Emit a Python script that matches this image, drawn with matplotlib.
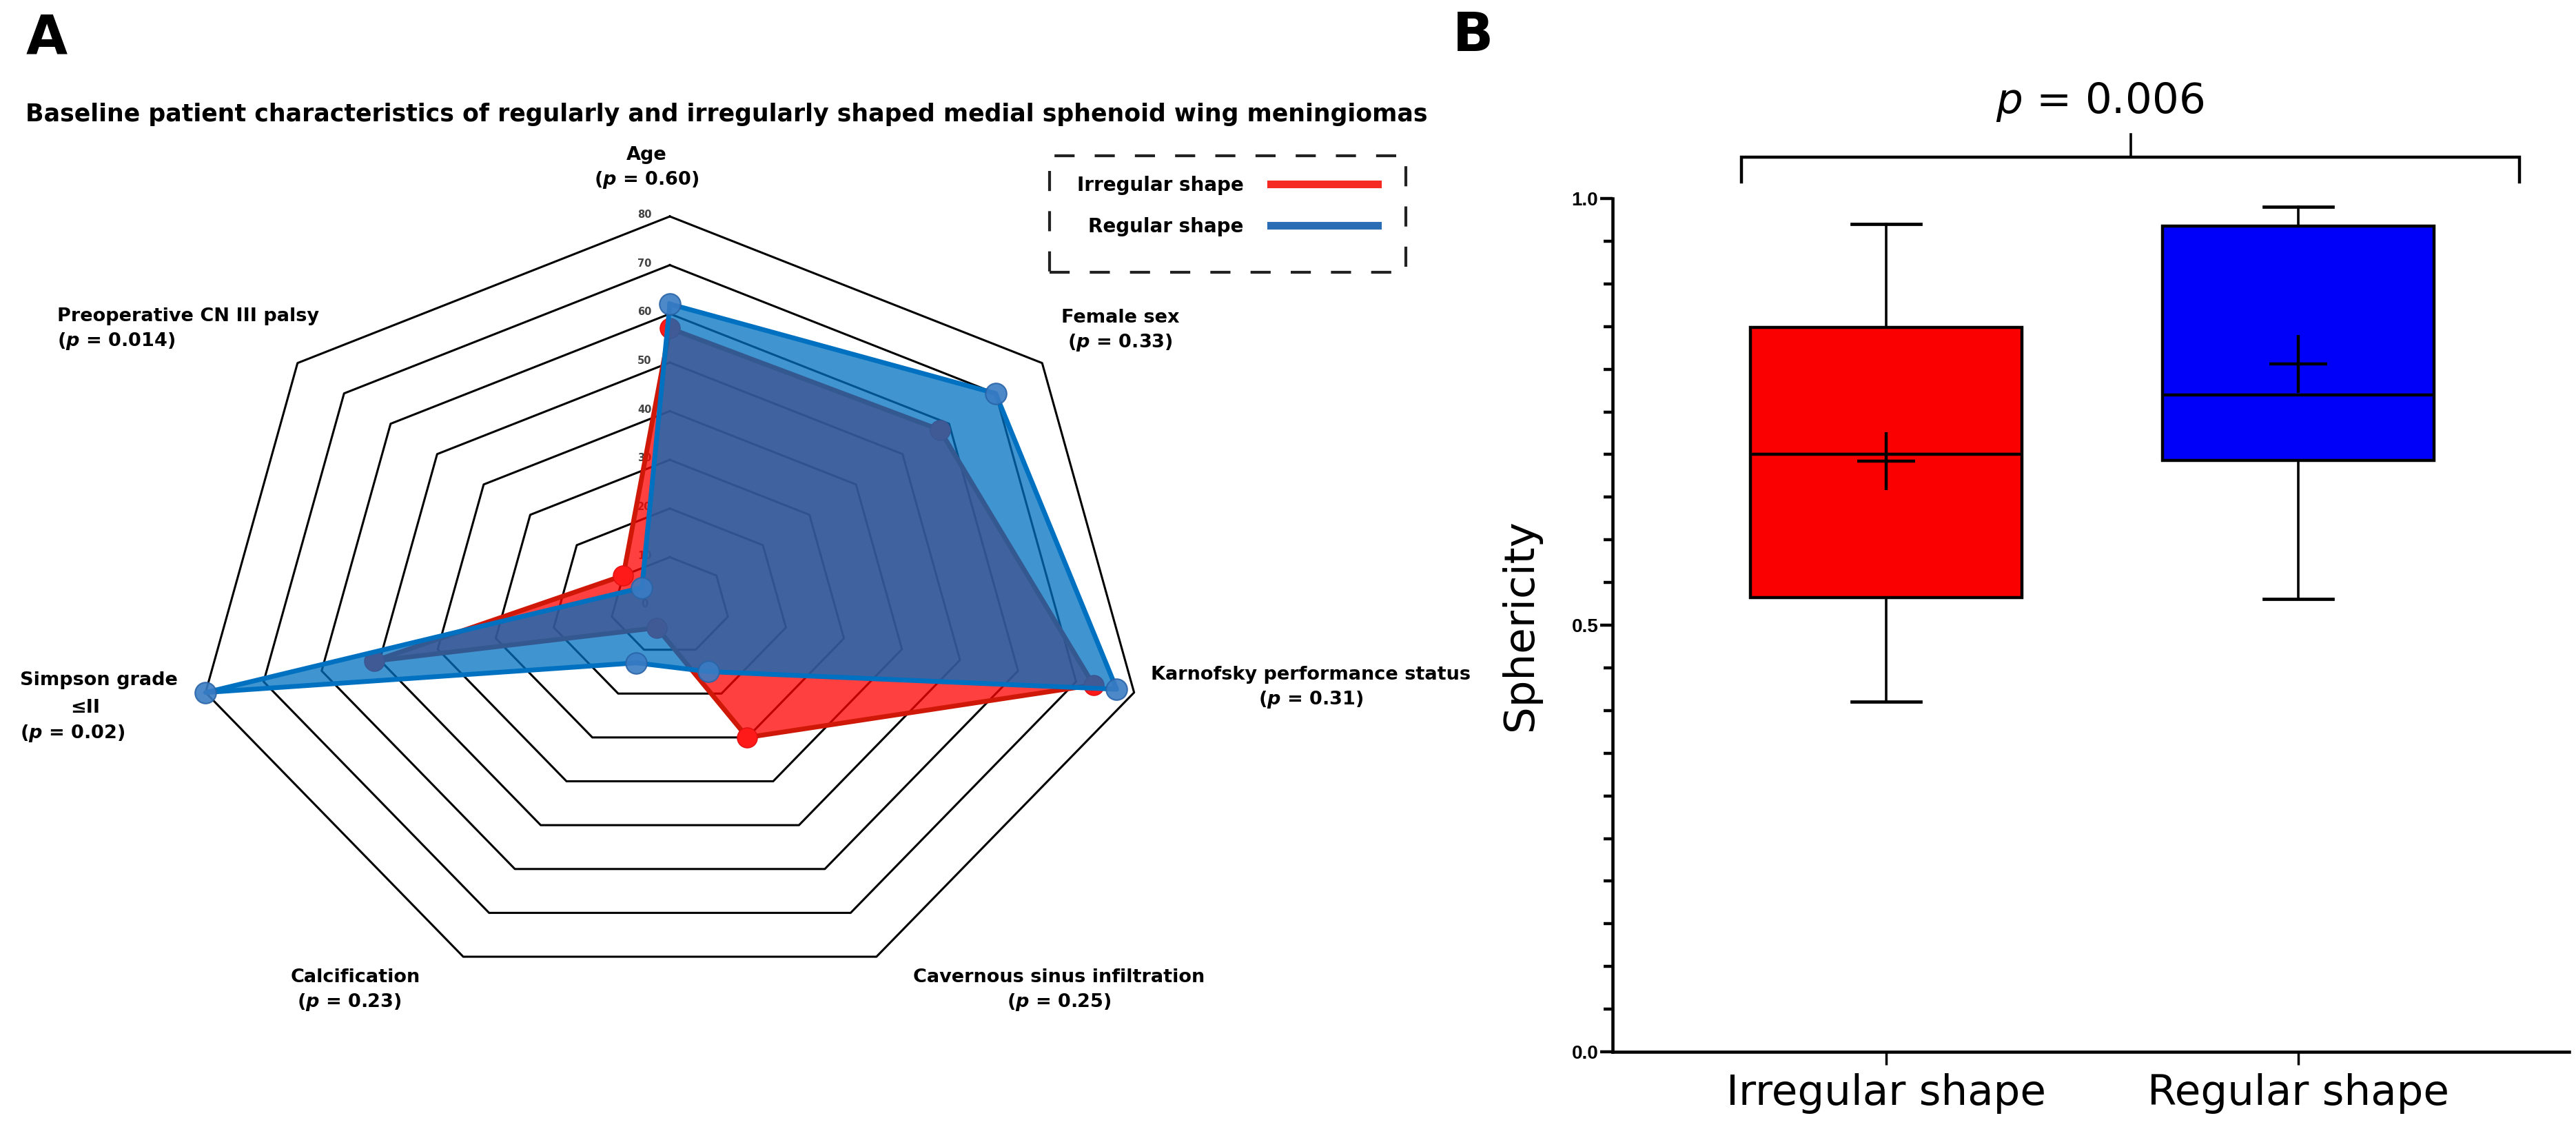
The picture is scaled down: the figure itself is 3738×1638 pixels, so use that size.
import numpy as np
import matplotlib
matplotlib.use('Agg')
import matplotlib.pyplot as plt
from matplotlib.lines import Line2D
from matplotlib.patches import Rectangle

plt.rcParams['mathtext.fontset'] = 'custom'
plt.rcParams['mathtext.it'] = 'DejaVu Sans:italic:bold'
plt.rcParams['mathtext.sf'] = 'DejaVu Sans:italic'

# ---- panel A data (radar) ----
radar_axes = ['Age', 'Female sex', 'Karnofsky performance status',
              'Cavernous sinus infiltration', 'Calcification',
              'Simpson grade ≤II', 'Preoperative CN III palsy']
radar_p = ['0.60', '0.33', '0.31', '0.25', '0.23', '0.02', '0.014']
irregular_vals = [57, 58, 73, 30, 5, 51, 10]
regular_vals = [62, 70, 77, 15, 13, 80, 6]
ring_levels = [10, 20, 30, 40, 50, 60, 70, 80]
ring_ticks = [0, 10, 20, 30, 40, 50, 60, 70, 80]
r_max = 80

# ---- panel B data (box plot) ----
groups = ['Irregular shape', 'Regular shape']
whis_low = [0.410, 0.531]
q1 = [0.532, 0.693]
medians = [0.700, 0.770]
means = [0.692, 0.806]
q3 = [0.849, 0.968]
whis_high = [0.970, 0.990]
p_value = '0.006'

W, H = 3738, 1638
fig = plt.figure(figsize=(W / 100, H / 100), dpi=100)


def fpos(px, py):
    # pixel position -> figure fraction
    return px / W, 1 - py / H


AFONT = 'DejaVu Sans'

# ================= panel A =================
cx, cy, rx, ry = 972, 879, 691, 565   # centre and radii in pixels
axA = fig.add_axes([0, 0, 2100 / W, 1])
axA.set_xlim(-cx / rx, (2100 - cx) / rx)
axA.set_ylim((cy - H) / ry, cy / ry)
axA.axis('off')

n = len(radar_axes)
theta = np.pi / 2 - np.arange(n) * 2 * np.pi / n


def radar_xy(vals):
    r = np.asarray(vals, dtype=float) / r_max
    x = r * np.cos(theta)
    y = r * np.sin(theta)
    return np.append(x, x[0]), np.append(y, y[0])


for lev in ring_levels:
    xs, ys = radar_xy([lev] * n)
    axA.plot(xs, ys, color='black', lw=2.2, zorder=1)

for t in ring_ticks:
    axA.text(-0.053, t / r_max + 0.004, str(t), ha='center', va='center',
             fontsize=10.5, color='#444444', family=AFONT, weight='bold', zorder=1)

# irregular (red) below, regular (blue) on top
xs, ys = radar_xy(irregular_vals)
axA.fill(xs, ys, color='#ff0000', alpha=0.75, lw=0, zorder=2)
axA.plot(xs, ys, color='#d01808', lw=5, zorder=3)
axA.plot(xs[:-1], ys[:-1], 'o', ms=21, color='#ff1a1a', mec='#e01010', mew=1, zorder=4)

xs, ys = radar_xy(regular_vals)
axA.fill(xs, ys, color='#0070c0', alpha=0.75, lw=0, zorder=5)
axA.plot(xs, ys, color='#0070c0', lw=5, zorder=6)
axA.plot(xs[:-1], ys[:-1], 'o', ms=22, color='#3a7cc4', mec='#2a64a8', mew=1.5,
         alpha=0.9, zorder=7)

# axis labels
lab_kw = dict(fontsize=19.5, weight='bold', family=AFONT, linespacing=1.35)
P = '($\\it{p}$ = %s)'
fig.text(*fpos(938, 244), 'Age\n' + P % radar_p[0], ha='center', va='center', **lab_kw)
fig.text(*fpos(1540, 480), 'Female sex\n ' + P % radar_p[1], ha='left', va='center', **lab_kw)
fig.text(*fpos(1902, 998), 'Karnofsky performance status\n' + P % radar_p[2],
         ha='center', va='center', **lab_kw)
fig.text(*fpos(1537, 1437), 'Cavernous sinus infiltration\n' + P % radar_p[3],
         ha='center', va='center', **lab_kw)
fig.text(*fpos(422, 1437), 'Calcification\n ' + P % radar_p[4], ha='left', va='center', **lab_kw)
fig.text(*fpos(29, 987), 'Simpson grade', ha='left', va='center', **lab_kw)
fig.text(*fpos(124, 1027), '≤II', ha='center', va='center', **lab_kw)
fig.text(*fpos(29, 1064), P % radar_p[5], ha='left', va='center', **lab_kw)
fig.text(*fpos(83, 478), 'Preoperative CN III palsy\n' + P % radar_p[6],
         ha='left', va='center', **lab_kw)

fig.text(*fpos(37, 166), 'Baseline patient characteristics of regularly and irregularly shaped '
         'medial sphenoid wing meningiomas', ha='left', va='center',
         fontsize=25, weight='bold', family=AFONT)
fig.text(*fpos(38, 56), 'A', ha='left', va='center', fontsize=56, weight='bold', family=AFONT)

# legend with dashed box
handles = [Line2D([], [], color='#f52a22', lw=8), Line2D([], [], color='#2a6db5', lw=8)]
fig.legend(handles, groups, loc='upper left', bbox_to_anchor=fpos(1538, 230),
           frameon=False, markerfirst=False, handlelength=5.6, handletextpad=1.4,
           labelspacing=1.15, prop=dict(family=AFONT, weight='bold', size=20))
x0, y0 = fpos(1523, 395)
x1, y1 = fpos(2040, 226)
fig.patches.append(Rectangle((x0, y0), x1 - x0, y1 - y0, transform=fig.transFigure,
                             fill=False, ec='#222222', lw=3, ls=(0, (7, 7))))

# ================= panel B =================
axB = fig.add_axes([2340 / W, 1 - 1526 / H, 1388 / W, (1526 - 288) / H])
stats = []
for i in range(len(groups)):
    stats.append(dict(label=groups[i], whislo=whis_low[i], q1=q1[i], med=medians[i],
                      mean=means[i], q3=q3[i], whishi=whis_high[i], fliers=[]))
bp = axB.bxp(stats, positions=[1, 2], widths=0.66, patch_artist=True,
             showmeans=True, showfliers=False, capwidths=0.167,
             boxprops=dict(lw=3.2, edgecolor='black'),
             medianprops=dict(color='black', lw=3.2),
             whiskerprops=dict(color='black', lw=2.6),
             capprops=dict(color='black', lw=3.4),
             meanprops=dict(marker='+', ms=60, mew=3.2, mec='black'))
for patch, c in zip(bp['boxes'], ['#fa0000', '#0000fa']):
    patch.set_facecolor(c)

axB.set_xlim(0.336, 2.657)
axB.set_ylim(0, 1.0)
axB.set_yticks([0, 0.5, 1.0])
axB.set_yticklabels(['0.0', '0.5', '1.0'])
axB.set_yticks(np.arange(0, 1.0001, 0.05), minor=True)
axB.spines[['top', 'right']].set_visible(False)
for s in ['left', 'bottom']:
    axB.spines[s].set_linewidth(3.3)
axB.tick_params(axis='y', which='major', length=13, width=3.2, pad=2, labelsize=20)
axB.tick_params(axis='y', which='minor', length=9.5, width=3.2)
axB.tick_params(axis='x', length=14, width=2.5, pad=8, labelsize=44)
for lbl in axB.get_yticklabels():
    lbl.set_family('Liberation Sans')
    lbl.set_weight('bold')
axB.set_ylabel('Sphericity', fontsize=44)
axB.yaxis.set_label_coords(-0.075, 0.5)

# significance bracket
bx0, bx1, bmid = 0.649, 2.537, 1.593
axB.plot([bx0, bx0, bx1, bx1], [1.019, 1.0485, 1.0485, 1.019], color='black', lw=3.2,
         clip_on=False, solid_joinstyle='miter')
axB.plot([bmid, bmid], [1.0485, 1.075], color='black', lw=2.6, clip_on=False)
axB.text(1.518, 1.113, '$\\mathsf{p}$ = %s' % p_value, ha='center', va='center', fontsize=44)

fig.text(*fpos(2108, 52), 'B', ha='left', va='center', fontsize=56, weight='bold')

fig.savefig('out.png', dpi=100)
